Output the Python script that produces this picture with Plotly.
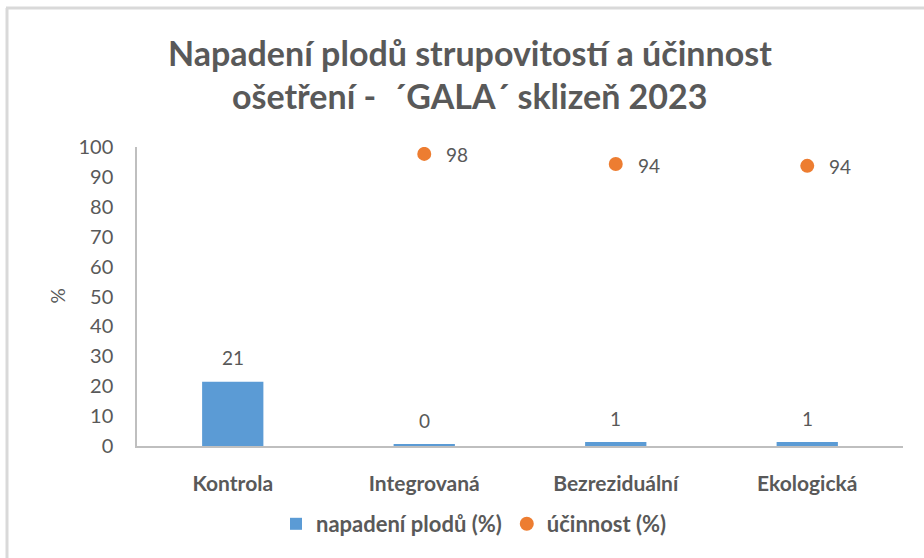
import plotly.graph_objects as go

categories = ["Kontrola", "Integrovaná", "Bezreziduální", "Ekologická"]
napadeni = [21.5, 0.4, 1.3, 1.3]
ucinnost = [97.7, 94.3, 93.7]
ucinnost_cats = ["Integrovaná", "Bezreziduální", "Ekologická"]
y_ticks = list(range(0, 101, 10))

W, H = 924, 558
L, R, T, B = 137, 21, 147, 112
pw = W - L - R
ph = H - T - B

BLUE = "#5B9BD5"
ORANGE = "#ED7D31"
GRAY = "#595959"
FONT = "Lato"


def px_y(y):
    return (H - B - y) / ph


def px_x(x):
    return (x - L) / pw


fig = go.Figure()
fig.add_trace(go.Bar(
    x=categories, y=napadeni, name="napadení plodů (%)",
    marker=dict(color=BLUE, line=dict(width=0)), width=0.32,
))
fig.add_trace(go.Scatter(
    x=ucinnost_cats, y=ucinnost, name="účinnost (%)", mode="markers",
    marker=dict(color=ORANGE, size=14, line=dict(width=0)),
))

ann = []
for c, v in zip(categories, napadeni):
    ann.append(dict(x=c, y=v, xref="x", yref="y", text=f"{int(v)}", showarrow=False,
                    yshift=24, font=dict(family=FONT, size=19, color=GRAY)))
for c, v in zip(ucinnost_cats, ucinnost):
    ann.append(dict(x=c, y=v, xref="x", yref="y", text=f"{round(v)}", showarrow=False,
                    xanchor="left", xshift=20, yshift=-1, font=dict(family=FONT, size=19, color=GRAY)))
ann.append(dict(x=px_x(470), y=px_y(52), xref="paper", yref="paper",
                text="Napadení plodů strupovitostí a účinnost", xanchor="center", yanchor="middle",
                showarrow=False, font=dict(family=FONT, size=34, color=GRAY, weight="bold")))
ann.append(dict(x=px_x(470), y=px_y(96), xref="paper", yref="paper",
                text="ošetření -  ´GALA´ sklizeň 2023", xanchor="center", yanchor="middle",
                showarrow=False, font=dict(family=FONT, size=34, color=GRAY, weight="bold")))
ann.append(dict(x=px_x(57), y=0.5, xref="paper", yref="paper", text="%", textangle=-90,
                xanchor="center", yanchor="middle",
                showarrow=False, font=dict(family=FONT, size=19, color=GRAY)))

fig.update_layout(
    width=W, height=H,
    margin=dict(l=L, r=R, t=T, b=B, autoexpand=False),
    paper_bgcolor="white", plot_bgcolor="white",
    showlegend=True,
    legend=dict(orientation="h", x=px_x(474), xanchor="center", y=px_y(524), yanchor="middle",
                font=dict(family=FONT, size=22, color=GRAY, weight="bold"), itemwidth=30,
                traceorder="normal"),
    annotations=ann,
    shapes=[
        dict(type="line", xref="paper", yref="paper", x0=px_x(6), x1=px_x(924),
             y0=px_y(8), y1=px_y(8), line=dict(color="#d9d9d9", width=3)),
        dict(type="line", xref="paper", yref="paper", x0=px_x(7), x1=px_x(7),
             y0=px_y(8), y1=px_y(560), line=dict(color="#d9d9d9", width=3)),
    ],
)
fig.update_xaxes(type="category", showline=True, linecolor="#bfbfbf", linewidth=1.5, showgrid=False,
                 ticks="", ticklabelstandoff=18,
                 tickfont=dict(family=FONT, size=21, color=GRAY, weight="bold"))
fig.update_yaxes(range=[0, 100], tickvals=y_ticks, showline=True, linecolor="#bfbfbf", linewidth=1.5,
                 showgrid=False, zeroline=False, ticks="", ticklabelstandoff=18,
                 tickfont=dict(family=FONT, size=20, color=GRAY))

fig.write_html("out.html", config={"displayModeBar": False},
               post_script="document.body.style.margin='0';document.body.style.overflow='hidden';")
